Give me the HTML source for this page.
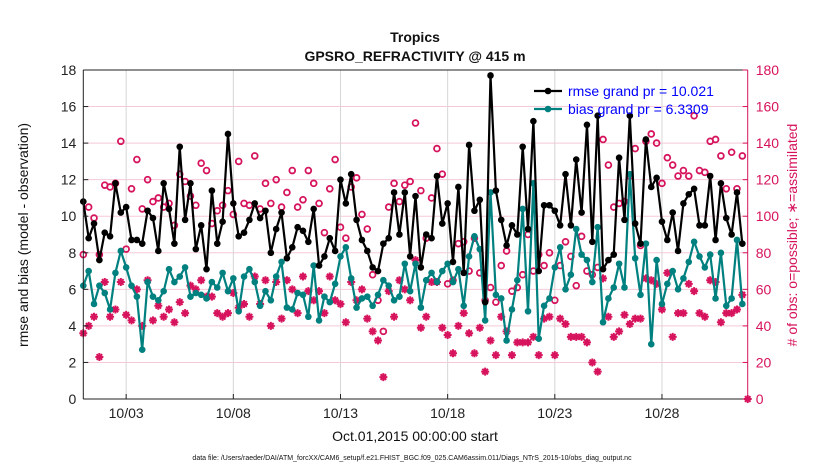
<!DOCTYPE html>
<html><head><meta charset="utf-8"><style>
body{margin:0;background:#fff;}
svg text{font-family:"Liberation Sans",Arial,sans-serif;}
</style></head><body>
<svg id="chart" width="830" height="470" xmlns="http://www.w3.org/2000/svg"></svg>
<script>
const rmse=[10.8,8.8,9.6,7.6,9.1,8.9,11.8,10.2,10.5,8.7,8.7,8.5,10.3,9.9,8.1,11.8,10.4,8.5,13.8,9.8,11.8,8.2,9.5,7.1,11.4,8.5,9.7,14.5,10.7,8.9,9.1,9.8,10.7,9.9,10.3,8.0,9.3,10.2,7.7,8.3,9.4,9.2,8.6,10.4,7.3,7.8,8.8,8.1,12.0,10.7,12.3,9.8,8.7,8.1,7.2,7.0,8.5,8.8,11.3,9.0,11.3,7.8,11.1,7.2,9.0,8.8,12.2,9.6,10.7,7.5,11.6,6.9,13.9,10.3,10.9,5.3,17.7,11.4,9.8,8.4,9.5,9.0,13.8,9.3,15.2,7.0,10.6,10.6,10.3,9.5,12.3,9.5,13.1,10.2,15.0,8.6,15.5,7.1,7.6,7.9,13.2,9.8,15.5,9.6,8.5,14.2,11.6,12.1,9.7,8.7,10.2,8.1,10.7,11.2,11.5,9.5,9.5,12.2,8.7,11.8,9.9,9.0,11.3,8.5];
const bias=[6.2,7.0,5.2,6.2,5.8,4.9,6.9,8.1,7.2,6.2,5.6,2.7,6.4,5.6,5.4,5.9,7.1,6.4,6.7,7.2,5.6,5.8,5.7,5.5,6.4,6.1,6.9,5.9,6.6,4.8,6.7,7.1,6.4,5.1,5.9,5.4,6.7,7.5,5.0,4.9,5.8,5.7,4.5,7.3,4.3,5.6,5.3,6.3,7.8,8.3,6.6,5.0,5.5,5.6,5.1,5.7,6.5,6.2,5.4,5.6,7.4,5.9,7.4,5.0,6.5,6.9,6.4,7.0,7.4,6.4,7.1,5.1,7.8,8.9,8.2,4.3,11.3,5.7,5.5,3.2,4.9,6.5,10.4,4.8,11.8,3.3,5.1,5.5,7.2,8.3,6.0,6.8,9.3,7.9,7.6,6.4,9.4,4.2,5.5,6.1,7.4,6.1,12.3,7.7,5.7,8.5,3.0,7.6,5.2,6.3,7.0,6.0,6.6,7.5,8.6,7.8,7.2,7.9,5.5,8.0,5.1,5.5,8.7,5.2];
const possible=[79,105,99,79,117,116,118,141,82,115,131,104,120,108,110,105,107,95,123,119,111,106,129,125,96,103,106,114,101,130,107,106,133,104,118,107,120,105,113,125,105,109,125,118,107,91,115,131,94,88,116,121,101,93,68,54,37,105,118,108,117,119,151,114,88,110,137,123,63,65,85,86,70,88,69,54,61,53,73,81,59,61,68,90,70,79,73,80,54,73,86,78,62,89,70,68,72,142,128,105,107,108,122,137,84,141,145,140,118,132,128,122,125,122,155,125,124,141,142,133,115,135,115,133];
const assim=[36,40,45,23,64,45,49,64,46,43,60,40,65,43,51,45,49,42,53,47,62,60,65,56,56,47,45,47,58,50,52,45,67,52,65,40,64,44,65,60,47,67,59,54,59,47,67,54,52,42,64,54,60,44,37,32,12,59,45,65,60,54,76,39,45,64,64,39,35,25,40,47,36,25,39,15,32,24,45,37,24,31,31,31,34,24,44,45,24,44,41,34,34,34,31,20,15,66,45,34,37,46,41,44,44,66,65,63,49,69,34,47,47,63,59,47,45,65,64,42,47,47,49,57,0];
const xTickLabels=["10/03","10/08","10/13","10/18","10/23","10/28"];
const xTickDays=[2,7,12,17,22,27];
const yTicks=[0,2,4,6,8,10,12,14,16,18];
const y2Ticks=[0,20,40,60,80,100,120,140,160,180];

const L=83.3,R=747.7,T=70,B=399,DAYS=31,STEP=0.25;
const X=d=>L+(R-L)*d/DAYS;
const Y=v=>B-(B-T)*v/18;
const Y2=n=>B-(B-T)*n/180;
const CR="#d6135c";
const svg=document.getElementById('chart');
const NS="http://www.w3.org/2000/svg";
function mk(tag,attrs,parent){const e=document.createElementNS(NS,tag);for(const k in attrs)e.setAttribute(k,attrs[k]);(parent||svg).appendChild(e);return e;}

// gridlines
const grid=mk('g',{});


y2Ticks.forEach(n=>{mk('line',{x1:L,x2:R,y1:Y2(n),y2:Y2(n),stroke:'#f5c9d8','stroke-width':1},grid);});
xTickDays.forEach(d=>{mk('line',{x1:X(d),x2:X(d),y1:T,y2:B,stroke:'#d6d6d6','stroke-width':1},grid);});

// series lines
function series(vals,color,name){
  const g=mk('g',{});
  
  
  const pts=vals.map((v,i)=>X(i*STEP).toFixed(1)+','+Y(v).toFixed(1)).join(' ');
  mk('polyline',{points:pts,fill:'none',stroke:color,'stroke-width':2.2,'stroke-linejoin':'round'},g);
  vals.forEach((v,i)=>{const c=mk('circle',{cx:X(i*STEP),cy:Y(v),r:3.3,fill:color},g);
    
    });
}
// possible circles
const pg=mk('g',{});


possible.forEach((n,i)=>{const c=mk('circle',{cx:X(i*STEP),cy:Y2(n),r:2.9,fill:'none',stroke:CR,'stroke-width':1.8},pg);
  
  });
// assimilated asterisks
const ag=mk('g',{});


assim.forEach((n,i)=>{const cx=X(i*STEP),cy=Y2(n),s=4;
  const p=mk('path',{d:`M${cx-s},${cy}H${cx+s}M${cx},${cy-s}V${cy+s}M${cx-s*.7},${cy-s*.7}L${cx+s*.7},${cy+s*.7}M${cx-s*.7},${cy+s*.7}L${cx+s*.7},${cy-s*.7}`,stroke:CR,'stroke-width':2},ag);
  
  });
series(bias,'#00807f','bias-series');
series(rmse,'#000000','rmse-series');

// axes box
const ax=mk('g',{});


mk('line',{x1:L,x2:R,y1:T,y2:T,stroke:'#222','stroke-width':1},ax);
mk('line',{x1:L,x2:R,y1:B,y2:B,stroke:'#222','stroke-width':1},ax);
mk('line',{x1:L,x2:L,y1:T,y2:B,stroke:'#222','stroke-width':1},ax);
mk('line',{x1:R,x2:R,y1:T,y2:B,stroke:CR,'stroke-width':1},ax);
yTicks.forEach(v=>{mk('line',{x1:L,x2:L+5,y1:Y(v),y2:Y(v),stroke:'#222'},ax);
  const t=mk('text',{x:L-7,y:Y(v)+5,'text-anchor':'end','font-size':14,fill:'#222'},ax);t.textContent=v;
  });
y2Ticks.forEach(n=>{mk('line',{x1:R-5,x2:R,y1:Y2(n),y2:Y2(n),stroke:CR},ax);
  const t=mk('text',{x:R+8,y:Y2(n)+5,'text-anchor':'start','font-size':14,fill:CR},ax);t.textContent=n;
  });
xTickDays.forEach((d,i)=>{mk('line',{x1:X(d),x2:X(d),y1:B,y2:B-5,stroke:'#222'},ax);
  const t=mk('text',{x:X(d),y:B+19,'text-anchor':'middle','font-size':14,fill:'#222'},ax);t.textContent=xTickLabels[i];
  });
mk('circle',{cx:R,cy:B,r:2.5,fill:CR});
</script>
<svg style="position:absolute;left:0;top:0" width="830" height="470" xmlns="http://www.w3.org/2000/svg">
<text x="415" y="42" text-anchor="middle" font-size="14" font-weight="bold" fill="#111">Tropics</text>
<text x="415" y="61" text-anchor="middle" font-size="14" font-weight="bold" fill="#111">GPSRO_REFRACTIVITY @ 415 m</text>
<text transform="translate(28,235) rotate(-90)" text-anchor="middle" font-size="14" fill="#111">rmse and bias (model - observation)</text>
<text transform="translate(797,235) rotate(-90)" text-anchor="middle" font-size="14" fill="#d6135c"># of obs: o=possible; ∗=assimilated</text>
<text x="415" y="441" text-anchor="middle" font-size="14" fill="#111">Oct.01,2015 00:00:00 start</text>
<text x="412" y="460" text-anchor="middle" font-size="7" fill="#111">data file: /Users/raeder/DAI/ATM_forcXX/CAM6_setup/f.e21.FHIST_BGC.f09_025.CAM6assim.011/Diags_NTrS_2015-10/obs_diag_output.nc</text>
<g>
<g>
<line x1="534" x2="562" y1="91" y2="91" stroke="#000" stroke-width="2.2"/><circle cx="548" cy="91" r="3.3" fill="#000"/>
<text x="568" y="96" font-size="14" fill="#0000ff">rmse grand pr = 10.021</text></g>
<g>
<line x1="534" x2="562" y1="109" y2="109" stroke="#00807f" stroke-width="2.2"/><circle cx="548" cy="109" r="3.3" fill="#00807f"/>
<text x="568" y="114" font-size="14" fill="#0000ff">bias grand pr = 6.3309</text></g>
</g>
</svg>
</body></html>
